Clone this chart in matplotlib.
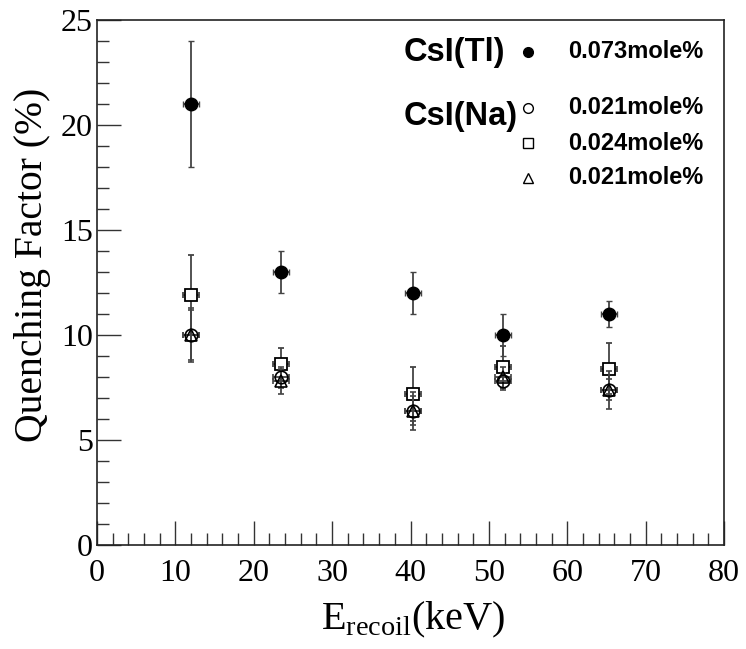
import matplotlib
matplotlib.use("Agg")
import matplotlib.pyplot as plt
from matplotlib.ticker import MultipleLocator

energy = [12.0, 23.5, 40.3, 51.8, 65.3]
energy_err = [1.0, 1.0, 1.0, 1.0, 1.0]

tl_073 = [21.0, 13.0, 12.0, 10.0, 11.0]
tl_073_err = [3.0, 1.0, 1.0, 1.0, 0.6]

na_021a = [10.0, 8.0, 6.4, 7.8, 7.4]
na_021a_err = [1.2, 0.5, 0.7, 0.4, 0.5]

na_024 = [11.9, 8.6, 7.2, 8.5, 8.4]
na_024_err = [1.9, 0.8, 1.3, 1.0, 1.2]

na_021b = [10.0, 7.8, 6.4, 8.0, 7.4]
na_021b_err = [1.3, 0.6, 0.9, 0.5, 0.9]

W, H = 746, 649
fig = plt.figure(figsize=(W / 100, H / 100), dpi=100)
ax = fig.add_axes([97 / W, 1 - 545 / H, (724 - 97) / W, (545 - 20) / H])

serif = ["Liberation Serif", "DejaVu Serif"]
sans = ["Liberation Sans", "DejaVu Sans"]

ecol = "#444444"
common = dict(ecolor=ecol, elinewidth=1.3, capsize=2.5, capthick=1.3, linestyle="none")

ax.errorbar(energy, na_024, xerr=energy_err, yerr=na_024_err, marker="s", ms=9,
            mfc="white", mec="black", mew=1.3, **common, zorder=3)
ax.errorbar(energy, na_021b, xerr=energy_err, yerr=na_021b_err, marker="^", ms=9,
            mfc="none", mec="black", mew=1.2, **common, zorder=4)
ax.errorbar(energy, na_021a, xerr=energy_err, yerr=na_021a_err, marker="o", ms=9,
            mfc="none", mec="black", mew=1.2, **common, zorder=4)
ax.errorbar(energy, tl_073, xerr=energy_err, yerr=tl_073_err, marker="o", ms=9,
            mfc="black", mec="black", mew=1.0, **common, zorder=5)

ax.set_xlim(0, 80)
ax.set_ylim(0, 25)
ax.xaxis.set_major_locator(MultipleLocator(10))
ax.xaxis.set_minor_locator(MultipleLocator(2))
ax.yaxis.set_major_locator(MultipleLocator(5))
ax.yaxis.set_minor_locator(MultipleLocator(1))
ax.tick_params(which="both", direction="in", top=False, right=False, color="#333333", width=1.0)
ax.tick_params(which="major", length=17, labelsize=23)
ax.tick_params(axis="y", which="major", pad=3)
ax.tick_params(axis="x", which="major", pad=10)
ax.tick_params(which="minor", length=8.5)
for lab in ax.get_xticklabels() + ax.get_yticklabels():
    lab.set_family(serif)
for s in ax.spines.values():
    s.set_linewidth(1.2)
    s.set_color("#222222")

ax.set_xlabel(r"E$_{\mathregular{recoil}}$(keV)", family=serif, fontsize=29)
ax.xaxis.set_label_coords(0.505, -0.104)
ax.set_ylabel("Quenching Factor (%)", family=serif, fontsize=28.5)
ax.yaxis.set_label_coords(-0.074, 0.533)

def px(x, y):
    return x / W, 1 - y / H

fig.text(*px(404, 52), "CsI(Tl)", family=sans, weight="bold", fontsize=23.5, va="center", ha="left")
fig.text(*px(404, 117), "CsI(Na)", family=sans, weight="bold", fontsize=23.5, va="center", ha="left")
labels = [("0.073mole%", 52, "o", "black"), ("0.021mole%", 108, "o", "none"),
          ("0.024mole%", 143, "s", "none"), ("0.021mole%", 178, "^", "none")]
for txt, y, m, fc in labels:
    fig.text(*px(568, y), txt, family=sans, weight="bold", fontsize=17, va="center", ha="left")
    fx, fy = px(528, y)
    fig.lines.append(matplotlib.lines.Line2D([fx], [fy], transform=fig.transFigure, marker=m,
                                             ms=7, mfc=fc, mec="black", mew=1.0, linestyle="none"))

fig.savefig("out.png", dpi=100)
